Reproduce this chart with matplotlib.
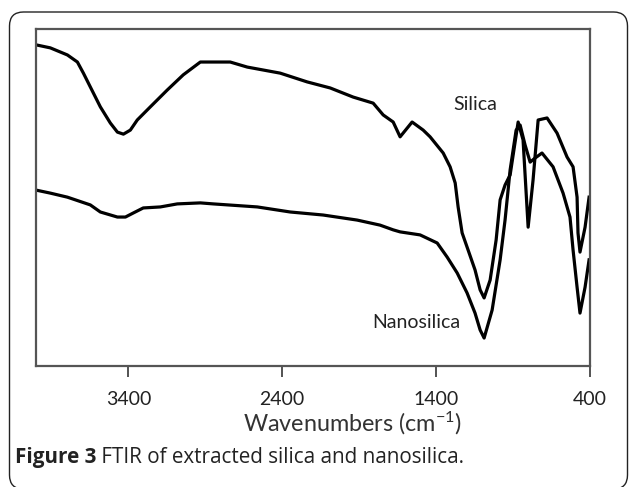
import matplotlib
matplotlib.use("Agg")
import matplotlib.pyplot as plt
from matplotlib.patches import FancyBboxPatch
from matplotlib.transforms import IdentityTransform

# ---- data (wavenumber cm-1, transmittance a.u.) ----
silica_wn = [4000, 3907, 3796, 3731, 3692, 3647, 3582, 3517, 3471, 3432, 3387, 3342,
             3257, 3147, 3043, 2932, 2738, 2627, 2413, 2238, 2088, 1939, 1809, 1744,
             1679, 1634, 1556, 1484, 1439, 1354, 1309, 1276, 1257, 1231, 1192, 1147,
             1114, 1088, 1049, 1010, 984, 952, 919, 867, 835, 802, 770, 737, 679,
             614, 549, 510, 484, 478, 465, 432, 406]
silica_t = [95.3, 94.4, 92.3, 90.2, 86.9, 82.8, 76.9, 72.1, 69.4, 68.8, 70.0, 73.0,
            76.9, 81.9, 86.4, 90.2, 90.2, 88.7, 86.9, 84.3, 82.5, 79.8, 78.0, 74.5,
            72.4, 68.0, 72.4, 70.0, 68.0, 63.2, 59.1, 54.3, 47.2, 39.5, 34.4, 28.5,
            22.6, 20.2, 25.5, 37.4, 49.3, 53.7, 56.7, 72.4, 67.1, 41.2, 55.2, 73.0, 73.6,
            69.1, 62.0, 59.1, 50.1, 39.5, 33.8, 41.2, 50.1]

nano_wn = [4000, 3907, 3796, 3647, 3582, 3471, 3419, 3368, 3303, 3192, 3082, 2932,
           2848, 2562, 2348, 2134, 1913, 1764, 1679, 1634, 1504, 1393, 1328, 1263,
           1199, 1147, 1114, 1088, 1036, 984, 952, 919, 880, 854, 822, 789, 757, 712,
           640, 575, 530, 510, 484, 465, 432, 406]
nano_t = [52.2, 51.3, 50.1, 47.8, 45.7, 44.2, 44.2, 45.4, 46.9, 47.2, 48.1, 48.4,
          48.1, 47.2, 45.7, 44.8, 43.3, 41.8, 40.4, 39.8, 38.9, 36.5, 32.3, 27.6,
          21.7, 15.7, 10.7, 8.3, 16.6, 31.5, 43.3, 58.2, 70.0, 71.5, 65.6, 60.5, 61.7, 63.2,
          59.1, 51.3, 44.2, 34.4, 23.4, 15.7, 23.4, 31.5]

tick_vals = [3400, 2400, 1400, 400]
tick_labels = ["3400", "2400", "1400", "400"]
series_labels = ["Silica", "Nanosilica"]
x_title = r"Wavenumbers (cm$^{\mathregular{-1}}$)"
caption_bold = "Figure 3"
caption_rest = " FTIR of extracted silica and nanosilica."

plt.rcParams["font.family"] = ["Lato", "DejaVu Sans"]
plt.rcParams["mathtext.default"] = "regular"
plt.rcParams["axes.unicode_minus"] = False

W, H = 629, 487
fig = plt.figure(figsize=(W / 100, H / 100), dpi=100)

# outer rounded panel
box = FancyBboxPatch((9.5, H - 489), 618, 477,
                     boxstyle="round,pad=0,rounding_size=14",
                     transform=IdentityTransform(), fill=False,
                     edgecolor="#222222", linewidth=1.0)
fig.patches.append(box)

ax = fig.add_axes([36 / W, 1 - 366 / H, (590 - 36) / W, (366 - 29) / H])
ax.plot(silica_wn, silica_t, color="black", lw=2.3, solid_joinstyle="round")
ax.plot(nano_wn, nano_t, color="black", lw=2.3, solid_joinstyle="round")

ax.set_xlim(4000, 400)
ax.set_ylim(0, 100)
ax.set_xticks(tick_vals)
ax.set_xticklabels(tick_labels)
ax.set_yticks([])
ax.tick_params(axis="x", direction="out", length=8, width=1.3, color="#444444",
               labelsize=14, pad=10, labelcolor="#222222")
for s in ax.spines.values():
    s.set_color("#555555")
    s.set_linewidth(1.6)

ax.text(1147, 76.0, series_labels[0], fontsize=14, ha="center", va="baseline",
        color="#222222")
ax.text(1815, 11.3, series_labels[1], fontsize=14, ha="left", va="baseline",
        color="#222222")

fig.text(352.5 / W, 1 - 432 / H, x_title, fontsize=16.8, ha="center",
         va="baseline", color="#333333")

t1 = fig.text(15 / W, 1 - 463 / H, caption_bold, fontsize=14.9, fontweight="bold",
              family=["Open Sans", "DejaVu Sans"], ha="left", va="baseline",
              color="#222222")
fig.canvas.draw()
bb = t1.get_window_extent(renderer=fig.canvas.get_renderer())
fig.text(bb.x1 / W, 1 - 463 / H, caption_rest, fontsize=14.9,
         family=["Open Sans", "DejaVu Sans"], ha="left", va="baseline",
         color="#222222")

fig.savefig("out.png", dpi=100)
